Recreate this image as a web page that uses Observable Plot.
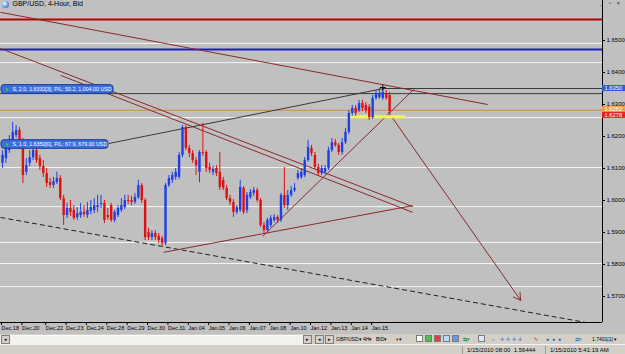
<!DOCTYPE html>
<html><head><meta charset="utf-8">
<script src="https://cdn.jsdelivr.net/npm/d3@7"></script>
<script src="https://cdn.jsdelivr.net/npm/@observablehq/plot@0.6"></script>
<style>
html,body{margin:0;padding:0;background:#c0c0c0;}
#wrap{position:relative;width:625px;height:354px;overflow:hidden;font-family:"Liberation Sans",Arial,sans-serif;font-size:6.5px;color:#000;}
#chart svg{display:block;}
#icon{position:absolute;left:2px;top:1px;width:7px;height:7px;border-radius:50%;background:radial-gradient(circle at 35% 35%,#ffffff 0,#7fb2ff 40%,#1e4fb5 100%);}
#winctl{position:absolute;right:3px;top:0px;font-size:6px;color:#333;letter-spacing:2px;}
#toolbar{position:absolute;left:0;top:334px;width:625px;height:10px;background:#d4d0c8;}
#track{position:absolute;left:0;top:1px;width:312px;height:8px;background:#f2f1ec;border-top:1px solid #fff;}
.btn{position:absolute;top:1px;width:7px;height:7px;background:#d4d0c8;border:1px solid #808080;font-size:5px;line-height:7px;text-align:center;color:#000;}
.ti{position:absolute;top:1px;height:8px;line-height:8px;font-size:5px;white-space:nowrap;}
.ic{position:absolute;top:1px;width:7px;height:7px;border:1px solid #7a7a7a;box-sizing:border-box;}
#status{position:absolute;left:0;top:344px;width:625px;height:10px;background:#d4d0c8;border-top:1px solid #f4f4f4;}
.st{position:absolute;top:1px;height:8px;line-height:8px;font-size:6px;white-space:nowrap;border-left:1px solid #9a9a9a;padding-left:4px;}
</style></head>
<body><div id="wrap"><div id="chart"></div>
<div id="icon"></div>
<div id="winctl">_ ▫ ×</div>
<div id="toolbar">
  <div id="track"></div>
  <div class="btn" style="left:1px">◂</div>
  <div class="btn" style="left:303px">▸</div>
  <div class="btn" style="left:315px">◂</div>
  <div class="btn" style="left:325px">▸</div>
  <div class="ti" style="left:336px">GBP/USD▾</div>
  <div class="ti" style="left:363px">4H▾</div>
  <div class="ti" style="left:376px">BID▾</div>
  <div class="ti" style="left:396px;color:#d01010">♦<span style="color:#000">▾</span></div>
  <div class="ic" style="left:416px;background:#fff"></div>
  <div class="ic" style="left:425px;background:#4fc04f"></div>
  <div class="ic" style="left:434px;background:#e04040"></div>
  <div class="ic" style="left:443px;background:#b8d8f8"></div>
  <div class="ic" style="left:452px;background:#6a9ae0"></div>
  <div class="ti" style="left:463px;color:#2a8a2a">⇆▾</div>
  <div class="ic" style="left:478px;background:#dfe8f8"></div>
  <div class="ti" style="left:492px;color:#3060c0">⌕</div>
  <div class="ti" style="left:500px;color:#3060c0;letter-spacing:2px">✛✛✛✛</div>
  <div class="ti" style="left:534px;color:#c04040">✎</div>
  <div class="ti" style="left:546px;color:#2050c0;letter-spacing:3px">●●●</div>
  <div class="ti" style="left:575px;color:#3080c0">⇄▾</div>
  <div class="ti" style="left:592px">1.7401[1] ▾</div>
</div>
<div id="status">
  <div class="st" style="left:462px">1/15/2010 08:00&nbsp;&nbsp;1.56444</div>
  <div class="st" style="left:545px">1/15/2010 5:41:19 AM</div>
</div>
</div>
<script>
// ---- candle data (GBP/USD 4-hour bars, Dec 18 2009 – Jan 15 2010) ----
const open = [1.6116,1.6131,1.6156,1.6188,1.6203,1.6219,1.6188,1.6088,1.6116,1.6134,
1.6156,1.6131,1.6106,1.6084,1.6056,1.6047,1.6056,1.6069,1.6006,1.5953,
1.5975,1.5969,1.5947,1.5953,1.5963,1.5953,1.5966,1.5969,1.5978,1.5988,
1.5991,1.5953,1.5984,1.5938,1.5953,1.5969,1.5978,1.6000,1.6000,1.5994,
1.6009,1.6047,1.6000,1.5900,1.5884,1.5897,1.5888,1.5881,1.5866,1.6047,
1.6063,1.6072,1.6072,1.6141,1.6228,1.6163,1.6147,1.6125,1.6088,1.6150,
1.6150,1.6103,1.6088,1.6100,1.6088,1.6063,1.6038,1.6006,1.5994,1.5963,
1.5969,1.6038,1.5969,1.6009,1.6022,1.6031,1.6000,1.5922,1.5906,1.5922,
1.5938,1.5947,1.5938,1.6016,1.5984,1.6016,1.6031,1.6069,1.6072,1.6078,
1.6125,1.6163,1.6141,1.6103,1.6084,1.6088,1.6100,1.6156,1.6181,1.6172,
1.6150,1.6181,1.6213,1.6272,1.6288,1.6281,1.6303,1.6297,1.6291,1.6259,
1.6319,1.6322,1.6319,1.6334,1.6328];
const high = [1.6156,1.6178,1.6203,1.6244,1.6234,1.6228,1.6194,1.6131,1.6156,1.6178,
1.6166,1.6141,1.6125,1.6100,1.6069,1.6072,1.6088,1.6078,1.6016,1.5991,
1.6000,1.5984,1.5978,1.5991,1.5984,1.5994,1.6000,1.6006,1.6016,1.6016,
1.6000,1.5975,1.5991,1.5969,1.5984,1.6006,1.6016,1.6016,1.6013,1.6022,
1.6063,1.6053,1.6006,1.5913,1.5906,1.5906,1.5897,1.5888,1.6053,1.6078,
1.6088,1.6100,1.6150,1.6234,1.6234,1.6172,1.6156,1.6134,1.6156,1.6241,
1.6156,1.6116,1.6106,1.6109,1.6150,1.6072,1.6047,1.6016,1.6003,1.5984,
1.6063,1.6044,1.6025,1.6034,1.6041,1.6038,1.6006,1.5931,1.5944,1.5953,
1.5956,1.5953,1.6022,1.6103,1.6031,1.6044,1.6053,1.6094,1.6100,1.6134,
1.6188,1.6172,1.6150,1.6113,1.6109,1.6109,1.6166,1.6194,1.6191,1.6178,
1.6194,1.6225,1.6281,1.6297,1.6297,1.6313,1.6313,1.6306,1.6300,1.6328,
1.6344,1.6350,1.6347,1.6344,1.6338];
const low = [1.6100,1.6116,1.6147,1.6178,1.6194,1.6172,1.6053,1.6078,1.6106,1.6125,
1.6116,1.6094,1.6072,1.6041,1.6038,1.6038,1.6050,1.6000,1.5922,1.5944,
1.5950,1.5938,1.5938,1.5944,1.5947,1.5944,1.5956,1.5959,1.5963,1.5975,
1.5928,1.5938,1.5931,1.5931,1.5947,1.5963,1.5972,1.5988,1.5984,1.5988,
1.6003,1.5991,1.5875,1.5875,1.5875,1.5875,1.5866,1.5853,1.5859,1.6041,
1.6053,1.6063,1.6066,1.6134,1.6156,1.6134,1.6116,1.6078,1.6056,1.6138,
1.6088,1.6084,1.6078,1.6075,1.6031,1.6031,1.6000,1.5984,1.5947,1.5956,
1.5963,1.5956,1.5959,1.6003,1.6013,1.5994,1.5916,1.5897,1.5900,1.5916,
1.5931,1.5928,1.5931,1.5975,1.5969,1.6009,1.6025,1.6063,1.6066,1.6072,
1.6119,1.6138,1.6097,1.6075,1.6078,1.6081,1.6094,1.6150,1.6166,1.6141,
1.6141,1.6175,1.6206,1.6263,1.6263,1.6275,1.6278,1.6272,1.6250,1.6253,
1.6313,1.6316,1.6313,1.6313,1.6272];
const close = [1.6141,1.6163,1.6188,1.6213,1.6219,1.6188,1.6078,1.6109,1.6134,1.6156,
1.6125,1.6106,1.6084,1.6053,1.6047,1.6059,1.6069,1.6006,1.5953,1.5975,
1.5963,1.5944,1.5959,1.5963,1.5956,1.5969,1.5978,1.5984,1.5984,1.5991,
1.5938,1.5947,1.5938,1.5963,1.5975,1.5984,1.6000,1.5997,1.5994,1.6009,
1.6047,1.6000,1.5884,1.5884,1.5897,1.5884,1.5875,1.5866,1.6047,1.6069,
1.6078,1.6088,1.6141,1.6228,1.6163,1.6147,1.6125,1.6109,1.6150,1.6147,
1.6100,1.6094,1.6097,1.6084,1.6041,1.6038,1.6006,1.5994,1.5963,1.5978,
1.6041,1.5963,1.6016,1.6025,1.6031,1.6000,1.5922,1.5906,1.5938,1.5944,
1.5947,1.5938,1.6016,1.5984,1.6016,1.6031,1.6038,1.6084,1.6088,1.6125,
1.6166,1.6147,1.6103,1.6084,1.6100,1.6100,1.6156,1.6181,1.6172,1.6150,
1.6181,1.6213,1.6272,1.6288,1.6272,1.6303,1.6288,1.6281,1.6259,1.6319,
1.6334,1.6334,1.6338,1.6319,1.6278];

// ---- axis ticks ----
const dateTickBar = [0,6,13,19,25,31,37,43,49,55,61,67,73,79,85,91,97,103,109];
const dateTickLabel = ["Dec.18","Dec.20","Dec.22","Dec.23","Dec.24","Dec.28","Dec.29","Dec.30","Dec.31",
  "Jan.04","Jan.05","Jan.06","Jan.07","Jan.08","Jan.10","Jan.12","Jan.13","Jan.14","Jan.15"];
const priceTicks = [1.57,1.58,1.59,1.60,1.61,1.62,1.63,1.64,1.65];

// ---- horizontal levels ----
const redLevel = [1.6566];
const blueLevel = [1.6472];
const whiteLevels = [1.6491,1.6431,1.6259,1.6103,1.5981,1.5869,1.5803,1.5731];
const askLevel = [1.6282];
const orderPrices = [1.6334, 1.6350];
const orderLabels = ["S, 2.0, 1.6332[3], P/L: 50.2, 1,004.00 USD", "S, 1.0, 1.6350[0], P/L: 67.9, 679.00 USD"];
const orderLabelPrice = [1.6347, 1.6175];
const orderLabelEndBar = [32.7, 31.2];

// ---- trend lines (bar index, price) ----
const trendStartBar  = [-0.6, -0.6, 17.1, 47.4, 76.6];
const trendStartPrice= [1.6588, 1.6475, 1.6391, 1.5838, 1.5888];
const trendEndBar    = [142.9, 120.8, 120.8, 120.8, 121.1];
const trendEndPrice  = [1.6300, 1.5981, 1.5963, 1.5984, 1.6347];
const arrowStart = [113.7, 1.6275];
const arrowEnd   = [152.6, 1.5688];
const dashedStart = [-0.6, 1.5947];
const dashedEnd   = [171.7, 1.5619];
const linkStart = [31.2, 1.6178];
const linkEnd   = [112.2, 1.6350];
const yellowZone = {fromBar: 101.9, toBar: 118.7, price: 1.6262};
const highMark = [112, 1.6353];

// right-axis price tags
const tagPrice = [1.6350, 1.6284, 1.6266];
const tagText  = ["1.6350", "1.6282", "1.6278"];
const tagFill  = ["#2e5fd0", "#f0a040", "#e82020"];

const xDomain = [-0.6, 176.7];
const yDomain = [1.561875, 1.6625];

const bars = open.map((o, i) => ({i, o, h: high[i], l: low[i], c: close[i],
  col: close[i] >= o ? "#1d3fe8" : "#e01010"}));
const trends = trendStartBar.map((b, k) => ({x1: b, y1: trendStartPrice[k], x2: trendEndBar[k], y2: trendEndPrice[k]}));
const orders = orderLabels.map((t, k) => ({t, p: orderLabelPrice[k], end: orderLabelEndBar[k]}));
const tags = tagPrice.map((p, k) => ({p, t: tagText[k], f: tagFill[k]}));
const tickLabelMap = new Map(dateTickBar.map((b, k) => [b, dateTickLabel[k]]));
const boxHalf = 0.00135, tagHalf = 0.00094;

const chart = Plot.plot({
  width: 625, height: 334,
  marginLeft: 0, marginRight: 23, marginTop: 0, marginBottom: 12,
  x: {domain: xDomain, axis: null},
  y: {domain: yDomain, axis: null},
  style: {background: "#c0c0c0", fontFamily: "'Liberation Sans', Arial, sans-serif", fontSize: "6px", color: "#000", overflow: "hidden"},
  marks: [
    Plot.ruleY(whiteLevels, {stroke: "#f6f6f6", strokeWidth: 1}),
    Plot.ruleY(redLevel, {stroke: "#b80000", strokeWidth: 2}),
    Plot.ruleY(blueLevel, {stroke: "#1c1cc0", strokeWidth: 2}),
    Plot.ruleY(askLevel, {stroke: "#d88a3a", strokeWidth: 1}),
    Plot.ruleY([orderPrices[0]], {stroke: "#3a3a3a", strokeWidth: 1}),
    Plot.ruleY([orderPrices[1]], {x1: linkEnd[0], x2: xDomain[1], stroke: "#3a3a3a", strokeWidth: 1}),
    Plot.link([0], {x1: () => linkStart[0], y1: () => linkStart[1], x2: () => linkEnd[0], y2: () => linkEnd[1], stroke: "#3a3a3a", strokeWidth: 1}),
    Plot.link([0], {x1: () => dashedStart[0], y1: () => dashedStart[1], x2: () => dashedEnd[0], y2: () => dashedEnd[1], stroke: "#202020", strokeWidth: 1, strokeDasharray: "5,3", clip: true}),
    Plot.link(trends, {x1: "x1", y1: "y1", x2: "x2", y2: "y2", stroke: "#8a2a2a", strokeWidth: 1, clip: true}),
    Plot.arrow([0], {x1: () => arrowStart[0], y1: () => arrowStart[1], x2: () => arrowEnd[0], y2: () => arrowEnd[1], stroke: "#8a2a2a", strokeWidth: 1, headLength: 12, bend: 0}),
    Plot.ruleY([yellowZone], {y: "price", x1: "fromBar", x2: "toBar", stroke: "#f4f45a", strokeWidth: 3}),
    // candles
    Plot.ruleX(bars, {x: "i", y1: "l", y2: "h", stroke: "col", strokeWidth: 1}),
    Plot.ruleX(bars, {x: "i", y1: "o", y2: "c", stroke: "col", strokeWidth: 2.4}),
    Plot.dot([highMark], {x: d => d[0], y: d => d[1], symbol: "plus", r: 2, stroke: "#000", strokeWidth: 1}),
    // order labels
    Plot.rect(orders, {x1: () => -0.3, x2: "end", y1: d => d.p - boxHalf, y2: d => d.p + boxHalf, fill: "#3d6fe0", stroke: "#1b3a96", rx: 3}),
    Plot.dot(orders, {x: () => 1.3, y: "p", symbol: "square", r: 1.3, fill: "#30d030", stroke: null}),
    Plot.text(orders, {x: () => 2.9, y: "p", text: "t", fill: "#fff", textAnchor: "start", fontSize: 5.3}),
    // axes
    Plot.ruleX([xDomain[1]], {stroke: "#000", strokeWidth: 1}),
    Plot.ruleY([yDomain[0]], {stroke: "#000", strokeWidth: 1}),
    Plot.axisY(priceTicks, {anchor: "right", tickSize: 2, tickPadding: 2, tickFormat: d3.format(".4f"), fontSize: 6, stroke: "#000", fill: "#000"}),
    Plot.axisX(dateTickBar, {anchor: "bottom", tickSize: 3, tickPadding: 1, tickFormat: d => tickLabelMap.get(d), textAnchor: "start", dx: -1, fontSize: 5.5, stroke: "#000", fill: "#000"}),
    // right-axis price tags
    Plot.rect(tags, {x1: () => xDomain[1], x2: () => xDomain[1] + 7, y1: d => d.p - tagHalf, y2: d => d.p + tagHalf, fill: "f"}),
    Plot.text(tags, {x: () => xDomain[1], y: "p", text: "t", dx: 2, textAnchor: "start", fill: "#fff", fontSize: 5.8}),
    // title
    Plot.text(["GBP/USD, 4-Hour, Bid"], {frameAnchor: "top-left", dx: 12, dy: 1, lineAnchor: "top", textAnchor: "start", fontSize: 7, fill: "#000"})
  ]
});
document.getElementById("chart").appendChild(chart);
</script>
</body></html>
